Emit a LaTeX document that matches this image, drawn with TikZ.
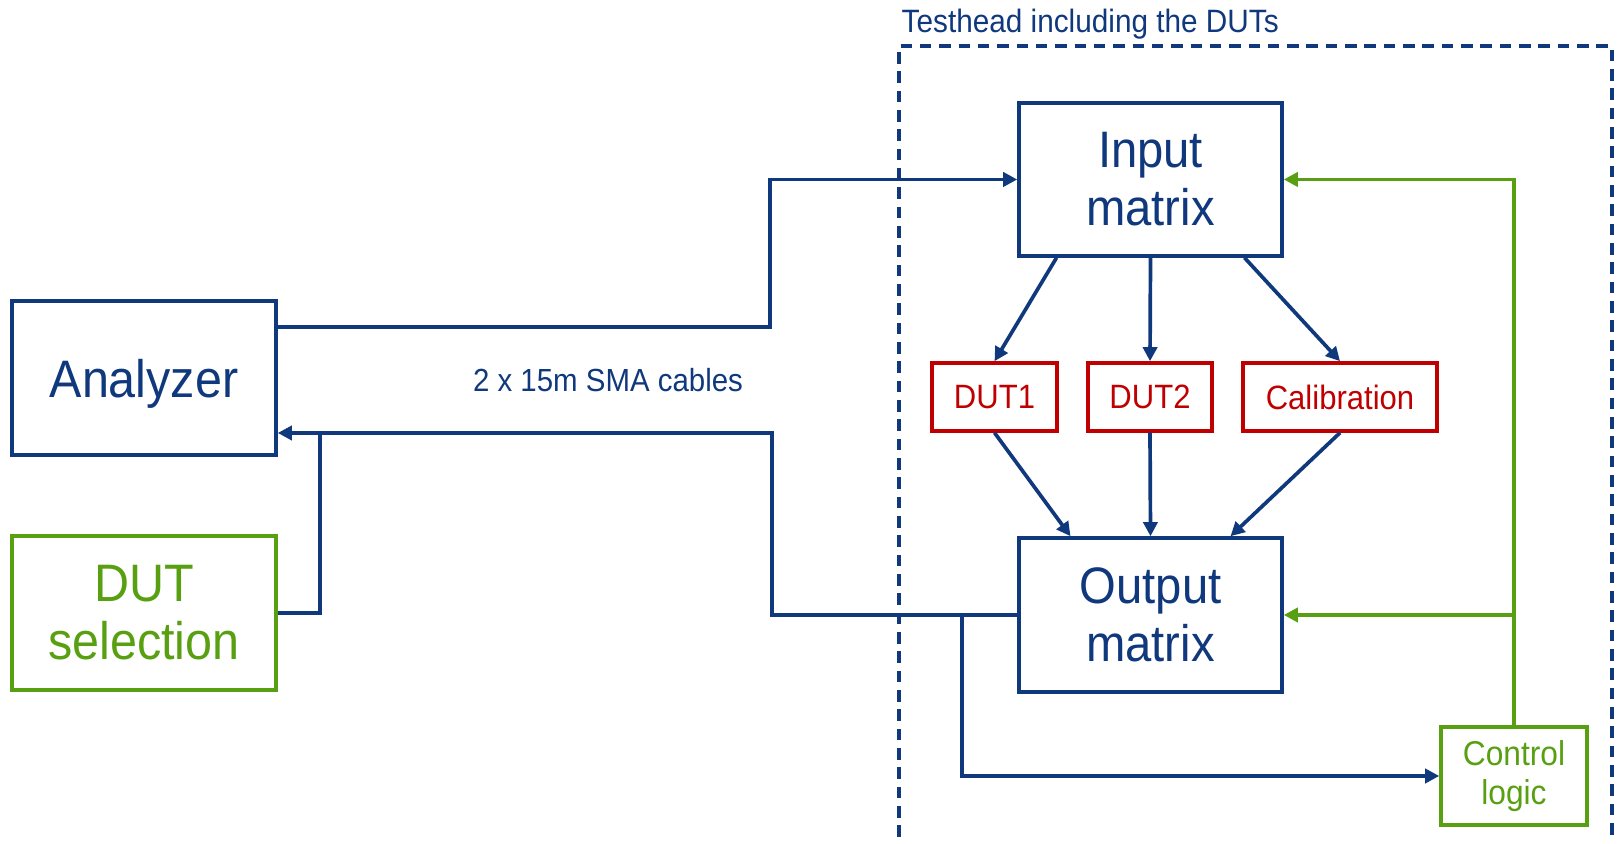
\documentclass[tikz,border=0pt]{standalone}
\usepackage{fontspec}
\setmainfont[FakeStretch=0.92]{Liberation Sans}
\usetikzlibrary{positioning,arrows.meta}
\definecolor{tblue}{RGB}{16,56,125}
\definecolor{tred}{RGB}{192,0,0}
\definecolor{tgreen}{RGB}{88,160,18}
\begin{document}
\begin{tikzpicture}[
  blk/.style={draw=tblue, line width=1pt, text=tblue, inner sep=0pt, align=center, minimum width=2.63cm, minimum height=1.53cm, font=\fontsize{14.6}{16.5}\selectfont},
  dut/.style={draw=tred, line width=1pt, text=tred, inner sep=0pt, minimum height=0.68cm, font=\fontsize{9.6}{12}\selectfont},
  gblk/.style={draw=tgreen, line width=1pt, text=tgreen, inner sep=0pt, align=center},
  cable/.style={draw=tblue, line width=1.05pt},
  arr/.style={cable, -{Triangle[length=4pt,width=4pt]}},
  garr/.style={draw=tgreen, line width=1.05pt, -{Triangle[length=4pt,width=4pt]}}]
\useasboundingbox (0,0) rectangle (16.17,8.44);
% outside the test head
\node[blk, minimum width=2.64cm, minimum height=1.54cm, text depth=0pt, font=\fontsize{15}{17}\selectfont] (ana) at (1.44,4.66) {Analyzer};
\node[gblk, minimum width=2.64cm, minimum height=1.54cm, font=\fontsize{15}{16.5}\selectfont] (sel) at (1.44,2.31) {DUT\\selection};
\node[text=tblue, font=\fontsize{9.1}{11}\selectfont] (sma) at (6.08,4.64) {2 x 15m SMA cables};
% test head
\draw[tblue, line width=1pt, dash pattern=on 3.3pt off 2.2pt] (8.99,0.07) -- (8.99,7.98) -- (16.12,7.98) -- (16.12,0.07);
\node[anchor=west, inner sep=0pt, text=tblue, font=\fontsize{9.2}{11}\selectfont] (th) at (9.01,8.20) {Testhead including the DUTs};
\node[blk] (inmat) at (11.505,6.645) {Input\\matrix};
\node[blk, minimum height=1.54cm] (outmat) at (11.505,2.29) {Output\\matrix};
\node[dut, minimum width=1.25cm] (dut1) at (9.945,4.47) {DUT1};
\node[dut, minimum width=1.24cm] (dut2) at (11.50,4.47) {DUT2};
\node[dut, minimum width=1.94cm] (cal) at (13.40,4.47) {Calibration};
\node[gblk, minimum width=1.46cm, minimum height=0.98cm, font=\fontsize{9.8}{11.2}\selectfont] (ctl) at (15.14,0.68) {Control\\logic};
% through the matrices
\draw[arr] ([xshift=-9.4mm]inmat.south) -- (dut1.north);
\draw[arr] (inmat.south) -- (dut2.north);
\draw[arr] ([xshift=9.4mm]inmat.south) -- (cal.north);
\draw[arr] (dut1.south) -- ([xshift=-8mm]outmat.north);
\draw[arr] (dut2.south) -- (outmat.north);
\draw[arr] (cal.south) -- ([xshift=8mm]outmat.north);
% cables to and from the analyzer
\coordinate (ret) at (7.72,4.11);
\coordinate (sj) at (3.20,4.11);
\coordinate (br) at (9.62,2.29);
\draw[arr] ([yshift=5.1mm]ana.east) -- ++(4.92,0) |- (inmat);
\draw[arr] (outmat) -| (ret) -- (ret -| ana.east);
\draw[cable] (sel) -| (sj);
\draw[arr] (br) |- (ctl);
% control lines
\draw[garr] (ctl) |- (inmat);
\draw[garr] (ctl) |- (outmat);
\end{tikzpicture}
\end{document}
